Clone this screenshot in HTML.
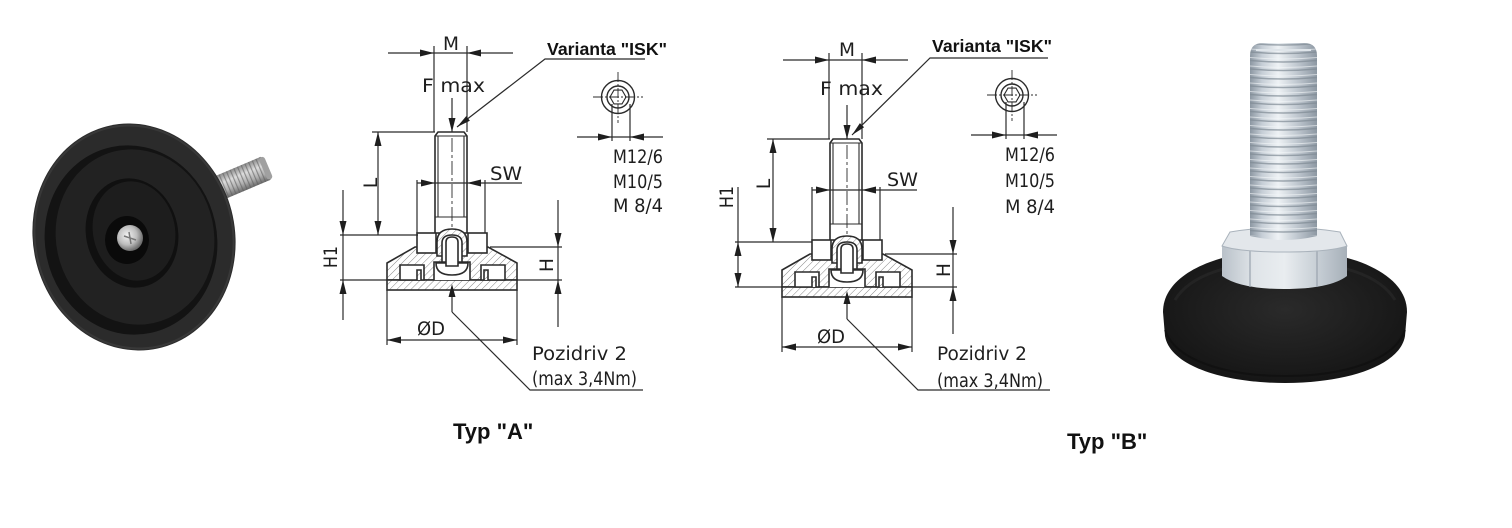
<!DOCTYPE html>
<html><head><meta charset="utf-8">
<style>
html,body{margin:0;padding:0;background:#fff;}
svg{display:block}
.t{font-family:"DejaVu Sans","Liberation Sans",sans-serif;font-size:18.5px;fill:#1e1e1e}
.b{font-family:"Liberation Sans",Arial,sans-serif;font-weight:bold;fill:#111}
</style></head><body>
<svg width="1512" height="528" viewBox="0 0 1512 528" xmlns="http://www.w3.org/2000/svg">
<defs>
 <pattern id="hatch" width="5" height="5" patternUnits="userSpaceOnUse" patternTransform="rotate(45)">
   <rect width="5" height="5" fill="#fff"/>
   <line x1="0" y1="0" x2="0" y2="5" stroke="#888" stroke-width="1"/>
 </pattern>
 <linearGradient id="silver" x1="0" x2="1" y1="0" y2="0">
   <stop offset="0" stop-color="#8c97a2"/>
   <stop offset="0.18" stop-color="#c6ced6"/>
   <stop offset="0.42" stop-color="#eef2f5"/>
   <stop offset="0.7" stop-color="#c0c8d0"/>
   <stop offset="1" stop-color="#8d98a3"/>
 </linearGradient>
 <pattern id="thread" x="1250" y="47" width="67" height="8.5" patternUnits="userSpaceOnUse">
   <path d="M0,5 Q33,8 67,5" stroke="#7f8a95" stroke-width="1.6" fill="none" opacity="0.7"/>
   <path d="M0,2 Q33,5 67,2" stroke="#f4f7f9" stroke-width="1" fill="none" opacity="0.6"/>
 </pattern>
 <linearGradient id="nutg" x1="0" x2="1">
   <stop offset="0" stop-color="#b9c1c9"/>
   <stop offset="0.25" stop-color="#dfe4e8"/>
   <stop offset="0.5" stop-color="#e9edf0"/>
   <stop offset="0.8" stop-color="#c2cad1"/>
   <stop offset="1" stop-color="#a7b0b9"/>
 </linearGradient>
 <radialGradient id="puck" cx="0.5" cy="0.45" r="0.6">
   <stop offset="0" stop-color="#2a2a2a"/>
   <stop offset="1" stop-color="#141414"/>
 </radialGradient>
 <radialGradient id="screw" cx="0.4" cy="0.4" r="0.6">
   <stop offset="0" stop-color="#f2f2f2"/>
   <stop offset="0.6" stop-color="#bdbdbd"/>
   <stop offset="1" stop-color="#6e6e6e"/>
 </radialGradient>
 <pattern id="lthread" width="4" height="26" patternUnits="userSpaceOnUse">
   <line x1="0.5" y1="0" x2="0.5" y2="26" stroke="#5d5d5d" stroke-width="1.3"/>
 </pattern>
 <linearGradient id="lbolt" x1="0" x2="0" y1="0" y2="1">
   <stop offset="0" stop-color="#8a8a8a"/>
   <stop offset="0.35" stop-color="#dcdcdc"/>
   <stop offset="0.7" stop-color="#b0b0b0"/>
   <stop offset="1" stop-color="#6a6a6a"/>
 </linearGradient>

 <g id="core" fill="none" stroke="#2b2b2b" stroke-width="1.6">
   <path d="M387,280 V263 L415,247 H488 L517,263 V280 Z" fill="url(#hatch)"/>
   <rect x="387" y="280" width="130" height="10" fill="url(#hatch)"/>
   <path d="M400,280 V265 H424 V280 Z" fill="#fff"/>
   <path d="M417,280 V270 H421 V280" fill="url(#hatch)"/>
   <path d="M481,280 V265 H505 V280 Z" fill="#fff"/>
   <path d="M484,280 V270 H488 V280" fill="url(#hatch)"/>
   <path d="M434,280 V262 H470 V280" fill="#fff"/>
   <path d="M436,263 H468 Q468,275 452,275 Q436,275 436,263 Z" fill="#fff"/>
   <path d="M435,233 V136 L438,132 H464 L467,136 V233" fill="#fff"/>
   <path d="M435,136 H467 M438,136 V217 M464,136 V217 M435,217 H467" stroke-width="1.1"/>
   <rect x="417" y="233" width="70" height="20" fill="#fff"/>
   <line x1="436" y1="233" x2="436" y2="253"/>
   <line x1="468" y1="233" x2="468" y2="253"/>
   <path d="M437,256 V242 Q437,229 452,229 Q467,229 467,242 V256 Z" fill="url(#hatch)"/>
   <path d="M442,262 V243 Q442,235 452,235 Q462,235 462,243 V262 Z" fill="#fff"/>
   <path d="M446,266 V242 Q446,237 452,237 Q458,237 458,242 V266 Z" fill="#fff"/>
   <g stroke-width="1.2">
     <path d="M388,53 H513 M434,46 V132 M467,46 V132"/>
     <path d="M452,98 V132"/>
     <path d="M378,132 V235 M372,132 H435"/>
     <path d="M417,183 H522 M417,180 V233 M485,180 V233"/>
     <path d="M558,200 V327 M490,247 H562 M517,280 H562"/>
     <path d="M387,290 V345 M517,290 V345 M387,340 H517"/>
     <path d="M452,290 V312"/>
     <path d="M452,138 V228" stroke-dasharray="14,3,3,3" stroke-width="0.9"/>
   </g>
   <g fill="#1e1e1e" stroke="none">
     <path d="M434,53 L420,49.5 L420,56.5 Z M467,53 L481,49.5 L481,56.5 Z"/>
     <path d="M452,132 L448.5,118 L455.5,118 Z"/>
     <path d="M378,132 L374.5,146 L381.5,146 Z M378,235 L374.5,221 L381.5,221 Z"/>
     <path d="M435,183 L421,179.5 L421,186.5 Z M467,183 L481,179.5 L481,186.5 Z"/>
     <path d="M558,247 L554.5,233 L561.5,233 Z M558,280 L554.5,294 L561.5,294 Z"/>
     <path d="M387,340 L401,336.5 L401,343.5 Z M517,340 L503,336.5 L503,343.5 Z"/>
     <path d="M452,284 L448.5,297 L455.5,297 Z"/>
   </g>
 </g>

 <g id="isk" fill="none" stroke="#2b2b2b" stroke-width="1.4">
   <circle cx="618" cy="97" r="16.5"/>
   <circle cx="618" cy="97" r="11"/>
   <polygon points="626,97 622,90.1 614,90.1 610,97 614,103.9 622,103.9" stroke-width="1.1"/>
   <path d="M593,97 H643 M618,72 V123" stroke-width="0.9" stroke-dasharray="10,2,2,2"/>
   <path d="M612,104 V141 M630,104 V141 M577,137 H663" stroke-width="1.2"/>
   <path d="M612,137 L598,133.5 L598,140.5 Z M630,137 L644,133.5 L644,140.5 Z" fill="#1e1e1e" stroke="none"/>
 </g>
</defs>

<rect width="1512" height="528" fill="#fff"/>

<!-- LEFT PHOTO -->
<g>
  <g transform="translate(205,194) rotate(-23)">
    <rect x="0" y="-12.5" width="66" height="25" fill="url(#lbolt)"/>
    <rect x="0" y="-12.5" width="66" height="25" fill="url(#lthread)" opacity="0.6"/>
    <rect x="63" y="-12" width="6" height="24" rx="3" fill="#a0a0a0"/>
  </g>
  <ellipse cx="134" cy="237" rx="101" ry="114" transform="rotate(-12 134 237)" fill="#2b2b2b"/>
  <ellipse cx="134" cy="237" rx="99" ry="112" transform="rotate(-12 134 237)" fill="none" stroke="#383838" stroke-width="2"/>
  <ellipse cx="131" cy="240" rx="86" ry="95" transform="rotate(-12 131 240)" fill="#131313"/>
  <ellipse cx="135" cy="237" rx="79" ry="88" transform="rotate(-12 135 237)" fill="#222"/>
  <ellipse cx="132" cy="233" rx="46" ry="55" transform="rotate(-12 132 233)" fill="#101010"/>
  <ellipse cx="134" cy="231" rx="41" ry="50" transform="rotate(-12 134 231)" fill="#1d1d1d"/>
  <ellipse cx="127" cy="240" rx="22" ry="24" fill="#0a0a0a"/>
  <circle cx="130" cy="238" r="13" fill="url(#screw)"/>
  <path d="M124,236 L136,240 M129,232 L131,244" stroke="#777" stroke-width="1.5"/>
</g>

<!-- DRAWING A -->
<use href="#core"/>
<use href="#isk"/>
<g fill="none" stroke="#2b2b2b" stroke-width="1.2">
  <path d="M645,59 H545 L457,127"/>
  <path d="M343,190 V320 M340,235 H418 M340,280 H387"/>
  <path d="M452,312 L530,390 H643"/>
</g>
<g fill="#1e1e1e">
  <path d="M457,127 L469.9,120.8 L466.2,116.1 Z"/>
  <path d="M343,235 L339.5,221 L346.5,221 Z M343,280 L339.5,294 L346.5,294 Z"/>
</g>
<text class="b" x="547" y="55" font-size="17.5" textLength="120" lengthAdjust="spacingAndGlyphs">Varianta "ISK"</text>
<text class="t" x="451" y="50" text-anchor="middle">M</text>
<text class="t" x="422" y="92" textLength="63" lengthAdjust="spacingAndGlyphs">F max</text>
<text class="t" x="490" y="180" textLength="32" lengthAdjust="spacingAndGlyphs">SW</text>
<text class="t" transform="translate(377,183) rotate(-90)" text-anchor="middle">L</text>
<text class="t" transform="translate(337,257) rotate(-90)" text-anchor="middle" textLength="22" lengthAdjust="spacingAndGlyphs">H1</text>
<text class="t" transform="translate(553,265) rotate(-90)" text-anchor="middle">H</text>
<text class="t" x="417" y="335" textLength="28" lengthAdjust="spacingAndGlyphs">ØD</text>
<text class="t" x="532" y="360" textLength="95" lengthAdjust="spacingAndGlyphs" font-size="18">Pozidriv 2</text>
<text class="t" x="532" y="385" textLength="105" lengthAdjust="spacingAndGlyphs" font-size="18">(max 3,4Nm)</text>
<text class="t" x="613" y="163" textLength="50" lengthAdjust="spacingAndGlyphs" font-size="18">M12/6</text>
<text class="t" x="613" y="188" textLength="50" lengthAdjust="spacingAndGlyphs" font-size="18">M10/5</text>
<text class="t" x="613" y="212" textLength="50" lengthAdjust="spacingAndGlyphs" font-size="18">M 8/4</text>
<text class="b" x="453" y="439" font-size="22">Typ "A"</text>

<!-- DRAWING B -->
<use href="#core" transform="translate(395,7)"/>
<use href="#isk" transform="translate(394,-2)"/>
<g fill="none" stroke="#2b2b2b" stroke-width="1.2">
  <path d="M1048,58 H930 L852,135"/>
  <path d="M738,187 V287 M735,242 H812 M735,287 H782"/>
  <path d="M847,319 L918,390 H1050"/>
</g>
<g fill="#1e1e1e">
  <path d="M852,135 L864.1,127.3 L859.9,123.1 Z"/>
  <path d="M738,242 L734.5,256 L741.5,256 Z M738,287 L734.5,273 L741.5,273 Z"/>
</g>
<text class="b" x="932" y="52" font-size="17.5" textLength="120" lengthAdjust="spacingAndGlyphs">Varianta "ISK"</text>
<text class="t" x="847" y="56" text-anchor="middle">M</text>
<text class="t" x="820" y="95" textLength="63" lengthAdjust="spacingAndGlyphs">F max</text>
<text class="t" x="887" y="186" textLength="31" lengthAdjust="spacingAndGlyphs">SW</text>
<text class="t" transform="translate(770,184) rotate(-90)" text-anchor="middle">L</text>
<text class="t" transform="translate(733,197) rotate(-90)" text-anchor="middle" textLength="22" lengthAdjust="spacingAndGlyphs">H1</text>
<text class="t" transform="translate(950,270) rotate(-90)" text-anchor="middle">H</text>
<text class="t" x="817" y="343" textLength="28" lengthAdjust="spacingAndGlyphs">ØD</text>
<text class="t" x="937" y="360" textLength="90" lengthAdjust="spacingAndGlyphs" font-size="18">Pozidriv 2</text>
<text class="t" x="937" y="387" textLength="106" lengthAdjust="spacingAndGlyphs" font-size="18">(max 3,4Nm)</text>
<text class="t" x="1005" y="161" textLength="50" lengthAdjust="spacingAndGlyphs" font-size="18">M12/6</text>
<text class="t" x="1005" y="187" textLength="50" lengthAdjust="spacingAndGlyphs" font-size="18">M10/5</text>
<text class="t" x="1005" y="213" textLength="50" lengthAdjust="spacingAndGlyphs" font-size="18">M 8/4</text>
<text class="b" x="1067" y="449" font-size="22">Typ "B"</text>

<!-- RIGHT PHOTO -->
<g>
  <path d="M1163,312 C1163,272 1222,250 1285,250 C1348,250 1407,272 1407,312 L1405,336 C1400,366 1346,383 1285,383 C1224,383 1170,366 1165,336 Z" fill="url(#puck)"/>
  <path d="M1165,330 C1175,360 1225,376 1285,376 C1345,376 1395,360 1405,330" fill="none" stroke="#0e0e0e" stroke-width="2" opacity="0.6"/>
  <path d="M1175,300 C1190,275 1230,262 1285,262 C1340,262 1380,275 1395,300" fill="none" stroke="#333" stroke-width="3" opacity="0.4"/>
  <path d="M1222,246 V276 Q1240,289 1284,289 Q1330,289 1347,276 V246 Z" fill="url(#nutg)"/>
  <path d="M1250,248 V287 M1317,248 V287" stroke="#9aa4ae" stroke-width="1.2"/>
  <path d="M1222,246 L1230,232 Q1284,223 1340,232 L1347,246 Q1330,252 1284,252 Q1240,252 1222,246 Z" fill="#e3e7eb" stroke="#aab3bc" stroke-width="1"/>
  <path d="M1250,236 V56 Q1250,43 1263,43 H1304 Q1317,43 1317,56 V236 Q1284,244 1250,236 Z" fill="url(#silver)"/>
  <path d="M1250,236 V56 Q1250,43 1263,43 H1304 Q1317,43 1317,56 V236 Z" fill="url(#thread)"/>
  <path d="M1256,50 H1311" stroke="#dfe5ea" stroke-width="2"/>
</g>
</svg>
</body></html>
